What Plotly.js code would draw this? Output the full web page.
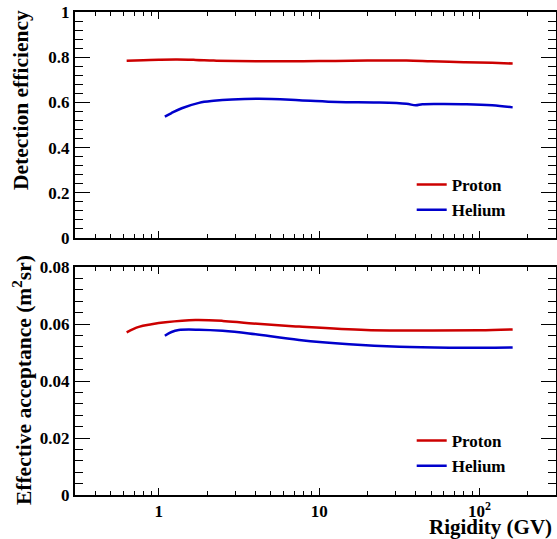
<!DOCTYPE html>
<html><head><meta charset="utf-8">
<script src="https://cdn.plot.ly/plotly-3.0.1.min.js"></script>
<style>html,body{margin:0;padding:0;background:#fff}</style>
</head><body><div id="chart" style="width:557px;height:539px"></div>
<script>
// Detection efficiency (top panel)
const rigEffProton = [0.63, 0.8, 1.0, 1.3, 1.7, 2.2, 3, 5, 10, 20, 35, 50, 80, 120, 161];
const effProton    = [0.784, 0.787, 0.789, 0.790, 0.788, 0.785, 0.783, 0.782, 0.783, 0.785, 0.785, 0.782, 0.778, 0.775, 0.772];
const rigEffHelium = [1.09, 1.2, 1.39, 1.78, 2.2, 2.86, 4.2, 7.5, 13, 23, 35, 40, 44, 60, 83, 120, 161];
const effHelium    = [0.537, 0.553, 0.574, 0.598, 0.607, 0.613, 0.616, 0.610, 0.602, 0.600, 0.594, 0.587, 0.592, 0.593, 0.592, 0.587, 0.578];
// Effective acceptance (bottom panel)
const rigAccProton = [0.63, 0.75, 0.9, 1.1, 1.69, 2.5, 3.65, 7.5, 19.6, 51, 100, 161];
const accProton    = [0.0571, 0.0590, 0.0599, 0.0606, 0.0614, 0.0611, 0.0603, 0.0591, 0.0579, 0.0577, 0.0578, 0.0581];
const rigAccHelium = [1.09, 1.2, 1.33, 1.78, 2.5, 3.65, 7.5, 15.4, 31.6, 65, 161];
const accHelium    = [0.0559, 0.0572, 0.0579, 0.0580, 0.0576, 0.0567, 0.0544, 0.0529, 0.0520, 0.0517, 0.0518];

const xTickVals = [1, 10, 100];
const xTickText = ['1', '10', '10<sup>2</sup>'];
const xMinorVals = [0.3,0.4,0.5,0.6,0.7,0.8,0.9,2,3,4,5,6,7,8,9,20,30,40,50,60,70,80,90,200,300];

const titleTop = 'Detection efficiency';
const titleBottom = 'Effective acceptance (m<sup>2</sup>sr)';
const titleX = 'Rigidity (GV)';

const RED = '#cc0000', BLUE = '#0000cc';
const FONT = 'Liberation Serif, Times New Roman, serif';
const tickFont = {family: FONT, size: 17, color: '#000', weight: 'bold'};
const titleFont = {family: FONT, size: 21.5, color: '#000', weight: 'bold'};

function xax(showLabels, anchor) {
  return {
    type: 'log', range: [Math.log10(0.3), Math.log10(300)],
    tickmode: 'array', tickvals: xTickVals, ticktext: xTickText,
    showticklabels: showLabels, tickfont: tickFont,
    ticks: 'inside', ticklen: 7, tickwidth: 1, tickcolor: '#000',
    minor: {tickmode: 'array', tickvals: xMinorVals, ticks: 'inside', ticklen: 4, tickwidth: 1, tickcolor: '#000', showgrid: false},
    showline: true, linecolor: '#000', linewidth: 2, mirror: 'ticks',
    showgrid: false, zeroline: false, anchor: anchor
  };
}
function yax(range, dtick, minorDtick, domain, anchor) {
  return {
    range: range, dtick: dtick, tick0: 0, domain: domain, anchor: anchor,
    tickfont: tickFont,
    ticks: 'inside', ticklen: 15, tickwidth: 1, tickcolor: '#000',
    minor: {dtick: minorDtick, tick0: 0, ticks: 'inside', ticklen: 8, tickwidth: 1, tickcolor: '#000', showgrid: false},
    showline: true, linecolor: '#000', linewidth: 2, mirror: 'ticks',
    showgrid: false, zeroline: false
  };
}

const data = [
  {x: rigEffProton, y: effProton, name: 'Proton', mode: 'lines', line: {color: RED, width: 2.5, shape: 'spline'}, xaxis: 'x', yaxis: 'y', legend: 'legend'},
  {x: rigEffHelium, y: effHelium, name: 'Helium', mode: 'lines', line: {color: BLUE, width: 2.5, shape: 'spline'}, xaxis: 'x', yaxis: 'y', legend: 'legend'},
  {x: rigAccProton, y: accProton, name: 'Proton', mode: 'lines', line: {color: RED, width: 2.5, shape: 'spline'}, xaxis: 'x2', yaxis: 'y2', legend: 'legend2'},
  {x: rigAccHelium, y: accHelium, name: 'Helium', mode: 'lines', line: {color: BLUE, width: 2.5, shape: 'spline'}, xaxis: 'x2', yaxis: 'y2', legend: 'legend2'}
];

const legFont = {family: FONT, size: 17, color: '#000', weight: 'bold'};
const layout = {
  width: 557, height: 539,
  margin: {l: 75, r: 1, t: 12, b: 44},
  paper_bgcolor: '#fff', plot_bgcolor: '#fff',
  showlegend: true,
  xaxis: xax(false, 'y'),
  yaxis: yax([0, 1], 0.2, 0.04, [0.5321, 1], 'x'),
  xaxis2: xax(true, 'y2'),
  yaxis2: yax([0, 0.08], 0.02, 0.004, [0, 0.4720], 'x2'),
  legend: {x: 0.70, xanchor: 'left', y: 0.679, yanchor: 'top', bgcolor: 'rgba(0,0,0,0)', font: legFont, tracegroupgap: 0},
  legend2: {x: 0.70, xanchor: 'left', y: 0.149, yanchor: 'top', bgcolor: 'rgba(0,0,0,0)', font: legFont, tracegroupgap: 0},
  annotations: [
    {text: titleX, xref: 'paper', yref: 'paper', x: 1, xanchor: 'right', xshift: -2, y: 0, yanchor: 'top', yshift: -18, showarrow: false,
     font: {family: FONT, size: 21, color: '#000', weight: 'bold'}},
    {text: titleTop, xref: 'paper', yref: 'paper', x: -0.1123, xanchor: 'center', y: 0.8178, yanchor: 'middle', textangle: -90, showarrow: false, font: titleFont},
    {text: titleBottom, xref: 'paper', yref: 'paper', x: -0.1102, xanchor: 'center', y: 0.238, yanchor: 'middle', textangle: -90, showarrow: false, font: titleFont}
  ]
};

Plotly.newPlot('chart', data, layout, {staticPlot: true, displayModeBar: false});
</script>
</body></html>
